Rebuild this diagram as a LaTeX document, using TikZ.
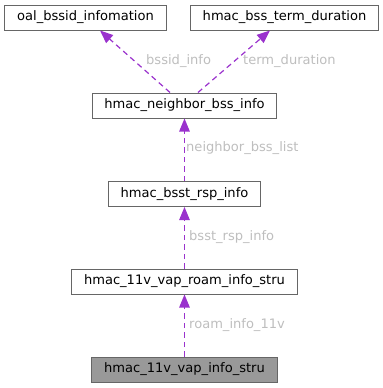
\documentclass[tikz,border=0pt]{standalone}
\usepackage{fontspec}
\setmainfont{DejaVu Sans}
\usetikzlibrary{arrows.meta}
\definecolor{edgec}{HTML}{9A32CD}
\definecolor{labc}{HTML}{BEBEBE}
\definecolor{boxc}{HTML}{666666}
\definecolor{focusc}{HTML}{999999}
\begin{document}
\begin{tikzpicture}[x=1bp,y=-1bp,
  cls/.style={draw=boxc,line width=1bp,fill=white,minimum height=25bp,inner sep=0pt,font=\fontsize{13.1}{15}\selectfont},
  focus/.style={cls,fill=focusc},
  rel/.style={draw=edgec,line width=1.2bp,dash pattern=on 5.5bp off 4bp,-{Triangle[length=13bp,width=10.5bp]}},
  lab/.style={text=labc,anchor=west,inner sep=0pt,font=\fontsize{13.1}{15}\selectfont}]
\useasboundingbox (0,0) rectangle (383,388);
\node[cls,minimum width=161bp] (oal) at (85.5,17.5) {oal\_bssid\_infomation};
\node[cls,minimum width=187bp] (hbt) at (284.5,17.5) {hmac\_bss\_term\_duration};
\node[cls,minimum width=183bp] (nb) at (184.5,105.5) {hmac\_neighbor\_bss\_info};
\node[cls,minimum width=151bp] (bsst) at (184.5,194) {hmac\_bsst\_rsp\_info};
\node[cls,minimum width=225bp] (roam) at (184.5,281.5) {hmac\_11v\_vap\_roam\_info\_stru};
\node[focus,minimum width=185bp] (vap) at (184.5,369.5) {hmac\_11v\_vap\_info\_stru};
\draw[rel] ([xshift=-14.5bp]nb.north) -- ([xshift=14.5bp]oal.south);
\draw[rel] ([xshift=13.5bp]nb.north) -- ([xshift=-14.5bp]hbt.south);
\draw[rel] (bsst.north) -- (nb.south);
\draw[rel] (roam.north) -- (bsst.south);
\draw[rel] (vap.north) -- (roam.south);
\node[lab] (l1) at (146,61) {bssid\_info};
\node[lab] (l2) at (243,61) {term\_duration};
\node[lab] (l3) at (186,148) {neighbor\_bss\_list};
\node[lab] (l4) at (189,237) {bsst\_rsp\_info};
\node[lab] (l5) at (189,325) {roam\_info\_11v};
\end{tikzpicture}
\end{document}
